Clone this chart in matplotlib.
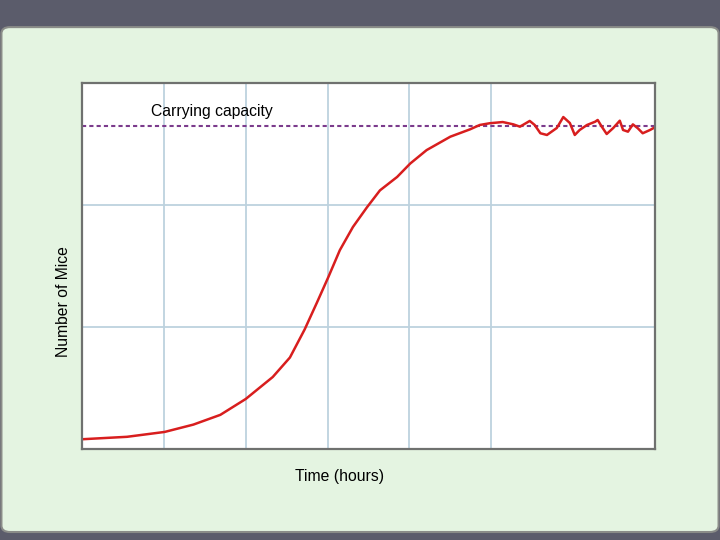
import matplotlib
matplotlib.use("Agg")
from matplotlib import pyplot as plt
from matplotlib.patches import FancyBboxPatch

# curve (time in hours, mice in grid units)
tiempo = [0.0, 0.55, 1.01, 1.36, 1.69, 2.0, 2.33, 2.54, 2.72, 2.87, 3.01,
          3.15, 3.31, 3.48, 3.64, 3.85, 4.01, 4.21, 4.5, 4.74, 4.86, 4.98,
          5.14, 5.27, 5.35, 5.47, 5.53, 5.60, 5.68, 5.80, 5.88, 5.96, 6.02,
          6.08, 6.17, 6.27, 6.30, 6.35, 6.41, 6.49, 6.57, 6.61, 6.67, 6.73,
          6.79, 6.85, 6.94, 7.0]
ratones = [0.08, 0.10, 0.14, 0.20, 0.28, 0.41, 0.59, 0.75, 0.98, 1.20, 1.41,
           1.63, 1.82, 1.98, 2.12, 2.23, 2.34, 2.45, 2.56, 2.62, 2.656, 2.670,
           2.680, 2.661, 2.642, 2.689, 2.656, 2.588, 2.574, 2.631, 2.721,
           2.672, 2.574, 2.615, 2.656, 2.683, 2.697, 2.642, 2.582, 2.631,
           2.691, 2.615, 2.601, 2.661, 2.629, 2.588, 2.615, 2.637]
capacidad = 2.65

fig = plt.figure(figsize=(7.2, 5.4), dpi=100)
fig.patch.set_facecolor('#5b5c6b')

panel = FancyBboxPatch((0.002, 0.0148), 0.996, 0.935,
                       boxstyle="round,pad=0,rounding_size=0.012",
                       transform=fig.transFigure, facecolor='#e4f4e1',
                       edgecolor='#8a8c88', linewidth=1.5, zorder=0)
fig.patches.append(panel)

ax = fig.add_axes([0.1139, 0.1685, 0.7958, 0.6778])
ax.set_zorder(2)
ax.set_facecolor('white')
ax.set_xlim(0, 7)
ax.set_ylim(0, 3)
ax.set_xticks(range(1, 6))
ax.set_yticks(range(1, 3))
ax.grid(True, color='#bdd2de', linewidth=1.3)
ax.tick_params(length=0, labelbottom=False, labelleft=False)
for s in ax.spines.values():
    s.set_color('#6f716f')
    s.set_linewidth(1.6)

ax.axhline(capacidad, color='#7b3b8c', linestyle=(0, (2, 1.5)), linewidth=1.5)
ax.plot(tiempo, ratones, color='#d81e1e', linewidth=1.8)
ax.text(0.84, 2.73, 'Carrying capacity', fontsize=11.3, family='Liberation Sans')

fig.text(0.088, 0.442, 'Number of Mice', rotation=90, ha='center', va='center',
         fontsize=11.3, family='Liberation Sans')
fig.text(0.472, 0.118, 'Time (hours)', ha='center', va='center',
         fontsize=11.3, family='Liberation Sans')

fig.savefig('out.png', dpi=100)
